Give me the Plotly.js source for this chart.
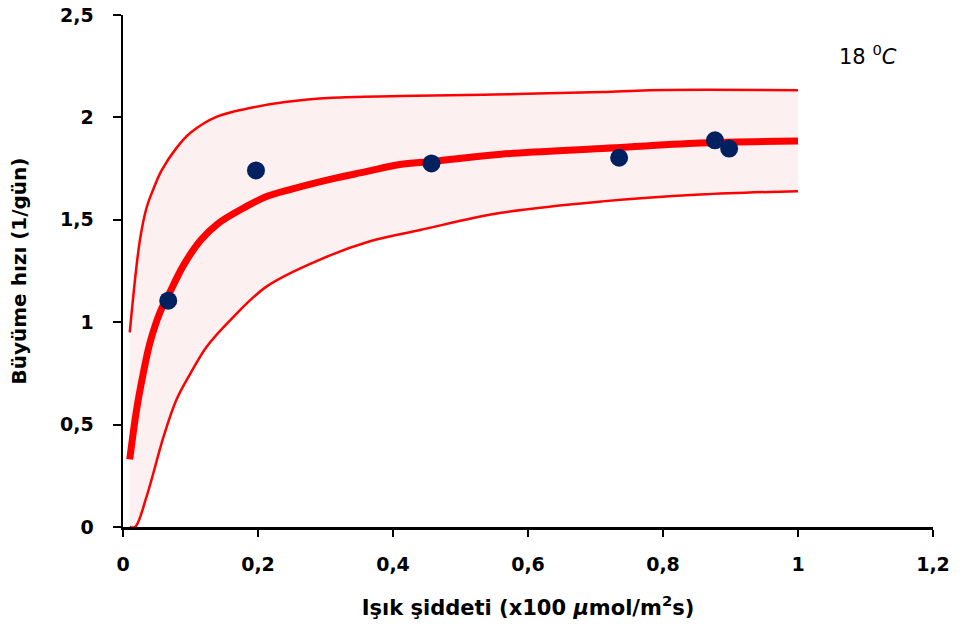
<!DOCTYPE html>
<html>
<head>
<meta charset="utf-8">
<script src="https://cdn.plot.ly/plotly-3.0.1.min.js"></script>
<style>html,body{margin:0;padding:0;background:#fff;}#chart{width:973px;height:639px;}</style>
</head>
<body>
<div id="chart"></div>
<script>
// Model mean curve
const meanX = [0.01, 0.02, 0.03, 0.04, 0.055, 0.067, 0.09, 0.115, 0.14, 0.18, 0.21, 0.25, 0.31, 0.36, 0.41, 0.46, 0.56, 0.71, 0.855, 1.0];
const meanY = [0.33, 0.57, 0.75, 0.9, 1.05, 1.13, 1.28, 1.40, 1.48, 1.56, 1.61, 1.65, 1.70, 1.735, 1.77, 1.785, 1.82, 1.848, 1.875, 1.885];
// Upper confidence band
const upperX = [0.01, 0.025, 0.035, 0.045, 0.057, 0.079, 0.1, 0.14, 0.19, 0.24, 0.31, 0.41, 0.55, 0.71, 0.78, 1.0];
const upperY = [0.95, 1.40, 1.56, 1.65, 1.74, 1.85, 1.925, 2.005, 2.047, 2.075, 2.096, 2.104, 2.112, 2.124, 2.133, 2.133];
// Lower confidence band
const lowerX = [0.01, 0.018, 0.035, 0.06, 0.079, 0.1, 0.124, 0.159, 0.213, 0.292, 0.366, 0.44, 0.56, 0.71, 0.855, 1.0];
const lowerY = [0, 0, 0.15, 0.44, 0.62, 0.75, 0.88, 1.01, 1.175, 1.306, 1.395, 1.45, 1.534, 1.59, 1.623, 1.64];
// Observations
const obsX = [0.067, 0.197, 0.457, 0.735, 0.877, 0.898];
const obsY = [1.105, 1.741, 1.775, 1.803, 1.888, 1.848];
// Axis ticks
const xTicks = [0, 0.2, 0.4, 0.6, 0.8, 1, 1.2];
const yTicks = [0, 0.5, 1, 1.5, 2, 2.5];

const F = '"DejaVu Sans", Verdana, sans-serif';
const lbl = v => '<b>' + String(v).replace('.', ',') + '</b>';

const traces = [
  {x: upperX, y: upperY, type: 'scatter', mode: 'lines', line: {color: '#ff0000', width: 2.5, shape: 'spline'}, hoverinfo: 'skip'},
  {x: lowerX, y: lowerY, type: 'scatter', mode: 'lines', fill: 'tonexty',
   fillcolor: 'rgba(251,228,228,0.55)', line: {color: '#ff0000', width: 2.5, shape: 'spline'}, hoverinfo: 'skip'},
  {x: meanX, y: meanY, type: 'scatter', mode: 'lines', line: {color: '#ff0000', width: 7, shape: 'spline'}},
  {x: obsX, y: obsY, type: 'scatter', mode: 'markers', marker: {color: '#002060', size: 18}}
];

const layout = {
  width: 973, height: 639,
  margin: {l: 123, r: 40, t: 15, b: 112},
  paper_bgcolor: '#fff', plot_bgcolor: '#fff',
  showlegend: false,
  separators: ',.',
  font: {family: F, color: '#000'},
  xaxis: {
    range: [0, 1.2], tickvals: xTicks, ticktext: xTicks.map(lbl),
    showgrid: false, zeroline: false, showline: true, linecolor: '#000', linewidth: 2.5,
    ticks: 'outside', ticklen: 7, tickwidth: 2, tickcolor: '#000', ticklabelstandoff: 12,
    tickfont: {family: F, size: 19, color: '#000'},
    title: {text: '<b>Işık şiddeti (x100 <i>µ</i>mol/m<sup>2</sup>s)</b>', font: {family: F, size: 21, color: '#000'}, standoff: 26}
  },
  yaxis: {
    range: [0, 2.5], tickvals: yTicks, ticktext: yTicks.map(lbl),
    showgrid: false, zeroline: false, showline: true, linecolor: '#000', linewidth: 2.5,
    ticks: 'outside', ticklen: 8, tickwidth: 2, tickcolor: '#000', ticklabelstandoff: 15,
    tickfont: {family: F, size: 19, color: '#000'},
    title: {text: '<b>Büyüme hızı (1/gün)</b>', font: {family: F, size: 20, color: '#000'}, standoff: 28}
  },
  annotations: [{
    text: '18 <sup>0</sup><i>C</i>', xref: 'paper', yref: 'paper', x: 0.882, y: 0.922,
    xanchor: 'left', yanchor: 'middle', showarrow: false,
    font: {family: F, size: 21, color: '#000'}
  }]
};

Plotly.newPlot('chart', traces, layout, {displayModeBar: false, staticPlot: true});
</script>
</body>
</html>
